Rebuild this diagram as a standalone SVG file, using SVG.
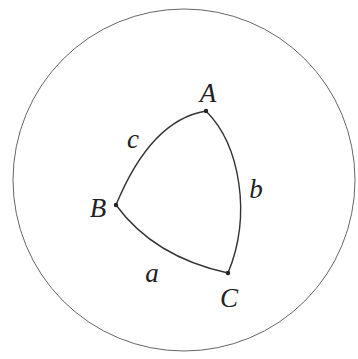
<svg xmlns="http://www.w3.org/2000/svg" width="358" height="359" viewBox="0 0 358 359">
<style>
.lbl{font-family:"Liberation Serif","Times New Roman",serif;font-style:italic;font-size:27px;fill:#222;text-anchor:middle}
.arc{fill:none;stroke:#333;stroke-width:1.4}
.dot{fill:#222}
</style>
<rect width="358" height="359" fill="#fff"/>
<g id="sphere"><circle cx="184" cy="180" r="171" fill="none" stroke="#666" stroke-width="1"/></g>
<g id="connectors">
<path id="arc-c" class="arc" d="M206,111 Q151,120 116,205"/>
<path id="arc-b" class="arc" d="M206,111 C240,145 252,215 228,273"/>
<path id="arc-a" class="arc" d="M116,205 Q154,257 228,273"/>
</g>
<g id="node-A"><circle class="dot" cx="206" cy="111" r="2.2"/><text class="lbl" x="208" y="102">A</text></g>
<g id="node-B"><circle class="dot" cx="116" cy="205" r="2.2"/><text class="lbl" x="98" y="217">B</text></g>
<g id="node-C"><circle class="dot" cx="228" cy="273" r="2.2"/><text class="lbl" x="229" y="307">C</text></g>
<g id="label-c"><text class="lbl" x="133" y="148">c</text></g>
<g id="label-b"><text class="lbl" x="256" y="198">b</text></g>
<g id="label-a"><text class="lbl" x="152" y="282">a</text></g>
</svg>
